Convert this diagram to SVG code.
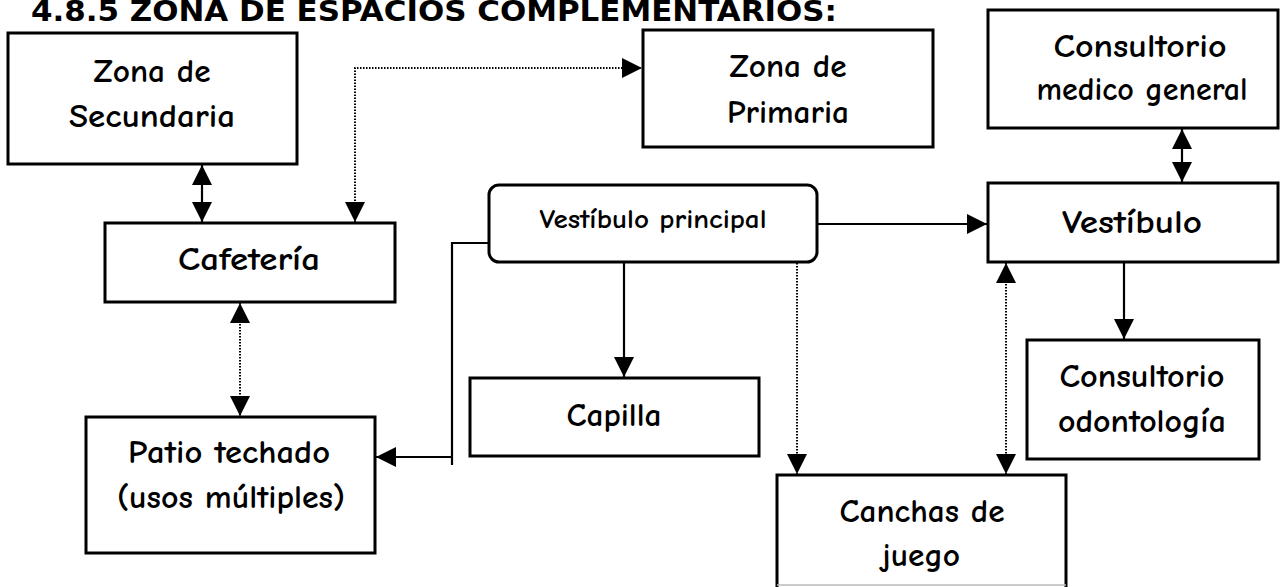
<svg xmlns="http://www.w3.org/2000/svg" width="1284" height="587" viewBox="0 0 1284 587">
<defs>
<marker id="ah" viewBox="0 0 20 20" refX="20" refY="10" markerWidth="20" markerHeight="20" markerUnits="userSpaceOnUse" orient="auto-start-reverse">
<path d="M0,0 L20,10 L0,20 z" fill="#000"/>
</marker>
<style>
.box{fill:#fff;stroke:#000;stroke-width:3}
.t{font-family:"Comic Sans MS","Comic Neue","Noto Sans",sans-serif;font-size:32px;font-weight:bold;fill:#000;text-anchor:middle}
.ts{font-size:27px}
.c{fill:none;stroke:#000;stroke-width:2.2}
.d{fill:none;stroke:#000;stroke-width:2;stroke-dasharray:1.5 1.5}
.title{font-family:"DejaVu Sans",Verdana,sans-serif;font-weight:bold;font-size:29px;fill:#000}
</style>
</defs>
<rect width="1284" height="587" fill="#fff"/>
<text class="title" x="31" y="21" textLength="806" lengthAdjust="spacingAndGlyphs">4.8.5 ZONA DE ESPACIOS COMPLEMENTARIOS:</text>

<g id="connectors">
<path class="c" d="M202,165 V222" marker-start="url(#ah)" marker-end="url(#ah)"/>
<path class="d" d="M355,222 V68 H642" marker-start="url(#ah)" marker-end="url(#ah)"/>
<path class="d" d="M240,303 V416" marker-start="url(#ah)" marker-end="url(#ah)"/>
<path class="c" d="M489,243 H452 V465"/>
<path class="c" d="M452,457 H376" marker-end="url(#ah)"/>
<path class="c" d="M624,263 V377" marker-end="url(#ah)"/>
<path class="d" d="M797,263 V474" marker-end="url(#ah)"/>
<path class="c" d="M818,224 H987" marker-end="url(#ah)"/>
<path class="c" d="M1182,129 V182" marker-start="url(#ah)" marker-end="url(#ah)"/>
<path class="c" d="M1124,263 V339" marker-end="url(#ah)"/>
<path class="d" d="M1006,263 V474" marker-start="url(#ah)" marker-end="url(#ah)"/>
</g>

<g id="secundaria"><rect class="box" x="8" y="33" width="289" height="131"/>
<text class="t" x="152" y="82" textLength="117" lengthAdjust="spacingAndGlyphs">Zona de</text><text class="t" x="152" y="127" textLength="166" lengthAdjust="spacingAndGlyphs">Secundaria</text></g>

<g id="primaria"><rect class="box" x="643" y="30" width="290" height="117"/>
<text class="t" x="788" y="77" textLength="117" lengthAdjust="spacingAndGlyphs">Zona de</text><text class="t" x="788" y="123" textLength="122" lengthAdjust="spacingAndGlyphs">Primaria</text></g>

<g id="medico"><rect class="box" x="988" y="10" width="290" height="118"/>
<text class="t" x="1140" y="57" textLength="173" lengthAdjust="spacingAndGlyphs">Consultorio</text><text class="t" x="1142" y="100" textLength="211" lengthAdjust="spacingAndGlyphs">medico general</text></g>

<g id="cafeteria"><rect class="box" x="105" y="223" width="290" height="79"/>
<text class="t" x="249" y="270" textLength="142" lengthAdjust="spacingAndGlyphs">Cafetería</text></g>

<g id="vestibulo-principal"><rect class="box" x="489" y="185" width="328" height="77" rx="10"/>
<text class="t ts" x="653" y="228" textLength="227" lengthAdjust="spacingAndGlyphs">Vestíbulo principal</text></g>

<g id="vestibulo"><rect class="box" x="988" y="183" width="290" height="79"/>
<text class="t" x="1132" y="233" textLength="140" lengthAdjust="spacingAndGlyphs">Vestíbulo</text></g>

<g id="capilla"><rect class="box" x="470" y="378" width="289" height="78"/>
<text class="t" x="614" y="426" textLength="95" lengthAdjust="spacingAndGlyphs">Capilla</text></g>

<g id="patio"><rect class="box" x="86" y="417" width="289" height="136"/>
<text class="t" x="229" y="463" textLength="202" lengthAdjust="spacingAndGlyphs">Patio techado</text><text class="t" x="231" y="508" textLength="228" lengthAdjust="spacingAndGlyphs">(usos múltiples)</text></g>

<g id="odontologia"><rect class="box" x="1027" y="340" width="232" height="119"/>
<text class="t" x="1142" y="387" textLength="165" lengthAdjust="spacingAndGlyphs">Consultorio</text><text class="t" x="1142" y="432" textLength="168" lengthAdjust="spacingAndGlyphs">odontología</text></g>

<g id="canchas"><path d="M777,588 V475 H1066 V588" fill="#fff" stroke="#000" stroke-width="3"/>
<line x1="777" y1="585" x2="1066" y2="585" stroke="#bbb" stroke-width="1.5"/>
<text class="t" x="922" y="522" textLength="165" lengthAdjust="spacingAndGlyphs">Canchas de</text><text class="t" x="921" y="566" textLength="78" lengthAdjust="spacingAndGlyphs">juego</text></g>
</svg>
